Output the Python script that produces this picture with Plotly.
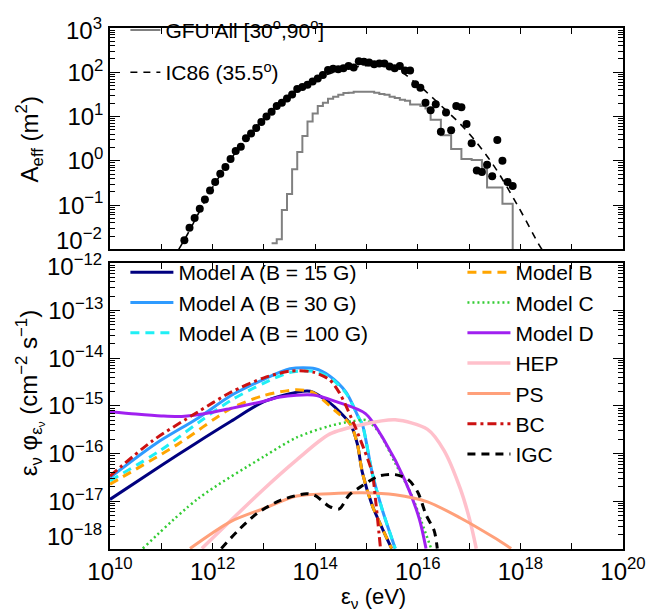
import plotly.graph_objects as go

# ---------------- Top panel: effective area ----------------
# IC86 points (log10 E/eV, A_eff in m^2)
dot_log10E = [11.45, 11.55, 11.65, 11.75, 11.85, 11.95, 12.05, 12.15, 12.25, 12.35,
              12.45, 12.55, 12.65, 12.75, 12.85, 12.95, 13.05, 13.15, 13.25, 13.35,
              13.45, 13.55, 13.65, 13.75, 13.85, 13.95, 14.05, 14.15, 14.25, 14.35,
              14.45, 14.55, 14.65, 14.75, 14.85, 14.95, 15.05, 15.15, 15.25, 15.35,
              15.45, 15.55, 15.65, 15.75, 15.85, 15.95, 16.05, 16.15, 16.25, 16.35,
              16.45, 16.55, 16.65, 16.75, 16.85, 16.95, 17.05, 17.15, 17.25, 17.35,
              17.45, 17.55, 17.65, 17.75, 17.85]
dot_log10A = [-1.79, -1.51, -1.29, -1.08, -0.87, -0.67, -0.48, -0.29, -0.14, 0.04,
              0.22, 0.32, 0.51, 0.62, 0.74, 0.88, 1.00, 1.11, 1.24, 1.31,
              1.41, 1.50, 1.62, 1.67, 1.72, 1.79, 1.86, 1.94, 2.05, 2.08,
              2.07, 2.09, 2.14, 2.11, 2.25, 2.24, 2.22, 2.18, 2.20, 2.20,
              2.13, 2.09, 2.14, 2.04, 2.04, 1.73, 1.65, 1.31, 1.14, 1.28,
              0.66, 1.09, 0.69, 1.24, 1.21, 0.83, 0.40, -0.22, -0.25, -0.09,
              -0.35, 0.47, 0.00, -0.48, -0.57]

# IC86 (35.5 deg) curve
ic86_log10E = [11.34, 11.5, 12.0, 12.5, 13.0, 13.5, 14.0, 14.5, 15.0, 15.5,
               15.94, 16.45, 16.96, 17.47, 17.98, 18.37, 18.42]
ic86_log10A = [-2.0, -1.68, -0.60, 0.27, 0.94, 1.46, 1.83, 2.05, 2.15, 2.12,
               1.78, 1.25, 0.67, -0.09, -1.08, -1.91, -2.0]

# GFU All [30,90] histogram: bin edges and levels
gfu_edges_log10E = [13.15, 13.25, 13.35, 13.45, 13.55, 13.65, 13.75, 13.85, 13.95, 14.05,
                    14.15, 14.25, 14.35, 14.45, 14.55, 14.65, 14.75, 14.85, 14.95, 15.05,
                    15.15, 15.25, 15.35, 15.45, 15.55, 15.65, 15.75, 15.85, 15.95, 16.05,
                    16.15, 16.25, 16.35, 16.45, 16.55, 16.65, 16.75, 16.85, 16.95, 17.05,
                    17.15, 17.25, 17.35, 17.45, 17.55, 17.65, 17.75, 17.85]
gfu_log10A = [-1.86, -1.77, -1.11, -0.75, -0.19, 0.20, 0.56, 0.89, 1.07, 1.24,
              1.31, 1.40, 1.45, 1.49, 1.53, 1.54, 1.56, 1.56, 1.56, 1.56,
              1.54, 1.51, 1.49, 1.45, 1.42, 1.38, 1.36, 1.27, 1.27, 1.24,
              1.18, 0.93, 0.93, 0.58, 0.58, 0.27, 0.27, 0.04, 0.04, 0.02,
              0.02, -0.17, -0.60, -0.60, -0.60, -0.97, -0.97]

# ---------------- Bottom panel: neutrino fluxes (log10 values) ----------------
mA15_x = [10.0, 11.0, 11.66, 12.36, 13.0, 13.64, 13.9, 14.28, 14.5, 14.69, 14.82, 14.92, 15.11, 15.30, 15.49]
mA15_y = [-16.96, -16.25, -15.79, -15.32, -14.91, -14.71, -14.69, -14.93, -15.15, -15.39, -15.79, -16.40, -17.08, -17.55, -17.99]

mA30_x = [10.0, 10.89, 11.72, 12.36, 13.0, 13.51, 14.0, 14.28, 14.6, 14.85, 14.92, 15.11, 15.30, 15.56]
mA30_y = [-16.50, -15.79, -15.25, -14.78, -14.44, -14.22, -14.22, -14.37, -14.71, -15.25, -15.39, -16.40, -17.15, -17.99]

mA100_x = [10.0, 11.0, 11.72, 12.36, 13.0, 13.5, 13.95, 14.28, 14.6, 14.85, 14.92, 15.11, 15.30, 15.56]
mA100_y = [-16.57, -15.92, -15.35, -14.88, -14.52, -14.30, -14.27, -14.40, -14.73, -15.25, -15.39, -16.40, -17.15, -17.99]

mB_x = [10.0, 11.34, 12.36, 13.0, 13.64, 13.96, 14.41, 14.69, 14.82, 14.92, 15.11, 15.30, 15.49]
mB_y = [-16.64, -15.79, -15.05, -14.78, -14.66, -14.72, -15.12, -15.39, -15.79, -16.40, -17.08, -17.55, -17.99]

mC_x = [10.64, 11.72, 13.0, 13.64, 14.28, 14.73, 15.0, 15.24, 15.56, 15.88, 16.07, 16.26]
mC_y = [-17.99, -16.94, -16.06, -15.66, -15.42, -15.32, -15.30, -15.55, -16.20, -16.87, -17.42, -17.99]

mD_x = [10.0, 10.5, 11.0, 11.4, 12.0, 12.36, 13.0, 13.32, 13.96, 14.41, 14.98, 15.36, 15.75, 16.03, 16.16]
mD_y = [-15.12, -15.17, -15.21, -15.22, -15.13, -15.05, -14.90, -14.81, -14.77, -14.91, -15.16, -15.75, -16.56, -17.37, -17.99]

hep_x = [11.79, 13.0, 13.64, 14.28, 14.92, 15.56, 16.19, 16.51, 16.83, 17.02, 17.14]
hep_y = [-17.99, -16.74, -16.13, -15.59, -15.39, -15.29, -15.49, -15.93, -16.74, -17.42, -17.99]

ps_x = [11.56, 12.36, 13.0, 13.64, 14.28, 14.92, 15.56, 16.19, 16.83, 17.47, 17.82]
ps_y = [-17.99, -17.42, -17.15, -16.89, -16.84, -16.82, -16.86, -17.01, -17.35, -17.75, -17.99]

bc_x = [10.0, 10.83, 11.72, 12.36, 13.0, 13.51, 13.96, 14.28, 14.47, 14.6, 14.76, 14.95, 15.11, 15.18, 15.27]
bc_y = [-16.47, -15.73, -15.12, -14.71, -14.41, -14.27, -14.29, -14.45, -14.72, -15.0, -15.39, -15.9, -16.40, -17.0, -17.96]

igc_x = [12.17, 12.49, 12.87, 13.32, 13.83, 14.0, 14.28, 14.47, 14.66, 14.92, 15.24, 15.56, 15.81, 16.0, 16.16, 16.32, 16.38]
igc_y = [-17.99, -17.62, -17.25, -16.98, -16.84, -16.88, -17.11, -17.16, -16.87, -16.67, -16.47, -16.44, -16.54, -16.81, -17.28, -17.62, -17.99]

# ---------------- Axis tick definitions ----------------
x_tickvals = [1e10, 1e11, 1e12, 1e13, 1e14, 1e15, 1e16, 1e17, 1e18, 1e19, 1e20]
x_ticktext = ['10<sup>10</sup>', '', '10<sup>12</sup>', '', '10<sup>14</sup>', '',
              '10<sup>16</sup>', '', '10<sup>18</sup>', '', '10<sup>20</sup>']
y1_exps = [-2, -1, 0, 1, 2, 3]
y2_exps = [-18, -17, -16, -15, -14, -13, -12]
# edge labels drawn slightly inside the panel (as in the original figure)
edge_labels = [(3, 0.998), (-2, 0.595), (-12, 0.545), (-18, 0.026)]


def p10(v):
    return [10 ** a for a in v]


def exp_label(n):
    s = str(abs(n))
    return '10<sup>' + ('\u2212' if n < 0 else '') + s + '</sup>'


def tick_text(exps, skip):
    return ['' if e in skip else exp_label(e) for e in exps]


def minor_vals(lo, hi):
    return [m * 10 ** n for n in range(lo, hi) for m in range(2, 10)]


FONT = 'Liberation Sans, Arial, Helvetica, sans-serif'

fig = go.Figure()

# ---- top panel traces ----
fig.add_trace(go.Scatter(
    x=p10(gfu_edges_log10E) + [10 ** gfu_edges_log10E[-1]],
    y=p10(gfu_log10A) + [10 ** gfu_log10A[-1], 1e-4],
    mode='lines', line=dict(color='#808080', width=2, shape='hv'),
    name='GFU All [30<sup>o</sup>,90<sup>o</sup>]', legend='legend', legendgroup='gfu',
    xaxis='x', yaxis='y'))
fig.add_trace(go.Scatter(
    x=p10(ic86_log10E), y=p10(ic86_log10A), mode='lines',
    line=dict(color='black', width=1.6, dash='7px,6px', shape='spline'),
    name='IC86 (35.5<sup>o</sup>)', legend='legend', legendgroup='ic86',
    xaxis='x', yaxis='y'))
fig.add_trace(go.Scatter(
    x=p10(dot_log10E), y=p10(dot_log10A), mode='markers',
    marker=dict(color='black', size=8), showlegend=False, xaxis='x', yaxis='y'))


# ---- bottom panel traces ----
def curve(xs, ys, name, color, width, dash, leg):
    fig.add_trace(go.Scatter(
        x=p10(xs), y=p10(ys), mode='lines', name=name,
        line=dict(color=color, width=width, dash=dash, shape='spline', smoothing=0.8),
        legend=leg, legendgroup=name, xaxis='x2', yaxis='y2'))


curve(mA15_x, mA15_y, 'Model A (B = 15 G)', '#00007F', 3, 'solid', 'legend2')
curve(mA30_x, mA30_y, 'Model A (B = 30 G)', '#2F9BFF', 3, 'solid', 'legend2')
curve(mA100_x, mA100_y, 'Model A (B = 100 G)', '#1FEFF5', 3, '9px,6px', 'legend2')
curve(mB_x, mB_y, 'Model B', '#FFA500', 3, '9px,6px', 'legend3')
curve(mC_x, mC_y, 'Model C', '#33CC33', 2.5, '2px,3px', 'legend3')
curve(mD_x, mD_y, 'Model D', '#A020F0', 3, 'solid', 'legend3')
curve(hep_x, hep_y, 'HEP', '#FFC0CB', 3.5, 'solid', 'legend3')
curve(ps_x, ps_y, 'PS', '#FFA07A', 3, 'solid', 'legend3')
curve(bc_x, bc_y, 'BC', '#CC1111', 3, '9px,4px,3px,4px', 'legend3')
curve(igc_x, igc_y, 'IGC', 'black', 3, '8px,6px', 'legend3')

axis_common = dict(type='log', showgrid=False, zeroline=False, showline=True,
                   linecolor='black', linewidth=1.5, mirror='allticks',
                   ticks='inside', tickcolor='black', tickwidth=1,
                   tickfont=dict(family=FONT, size=24, color='black'))

leg_common = dict(bgcolor='rgba(0,0,0,0)', font=dict(family=FONT, size=21, color='black'),
                  xanchor='left', yanchor='top', tracegroupgap=0, itemwidth=43)

annotations = [
    dict(text='A<sub>eff</sub> (m<sup>2</sup>)', xref='paper', yref='paper',
         x=-0.157, y=0.787, textangle=-90, showarrow=False,
         font=dict(family=FONT, size=24, color='black'), xanchor='center', yanchor='middle'),
    dict(text='\u03b5<sub>\u03bd</sub> \u03c6<sub>\u03b5<sub>\u03bd</sub></sub> (cm<sup>\u22122</sup> s<sup>\u22121</sup>)',
         xref='paper', yref='paper', x=-0.157, y=0.30, textangle=-90, showarrow=False,
         font=dict(family=FONT, size=24, color='black'), xanchor='center', yanchor='middle'),
    dict(text='\u03b5<sub>\u03bd</sub> (eV)', xref='paper', yref='paper',
         x=0.513, y=-0.095, showarrow=False,
         font=dict(family=FONT, size=22, color='black'), xanchor='center', yanchor='middle'),
]
for e, ypos in edge_labels:
    annotations.append(dict(text=exp_label(e), xref='paper', yref='paper',
                            x=-0.012, y=ypos, xanchor='right', yanchor='middle',
                            showarrow=False,
                            font=dict(family=FONT, size=24, color='black')))

fig.update_layout(
    width=656, height=616,
    margin=dict(l=110, r=24, t=10, b=67),
    paper_bgcolor='white', plot_bgcolor='white',
    font=dict(family=FONT, color='black'),
    xaxis=dict(axis_common, range=[10, 20], domain=[0, 1], anchor='y',
               tickvals=x_tickvals, ticktext=['' for _ in x_tickvals], ticklen=6),
    yaxis=dict(axis_common, range=[-2, 3], domain=[0.575, 1], anchor='x',
               tickvals=[10 ** e for e in y1_exps], ticktext=tick_text(y1_exps, (3, -2)),
               ticklen=10,
               minor=dict(tickmode='array', tickvals=minor_vals(-2, 3), ticks='inside',
                          ticklen=5, tickcolor='black', tickwidth=1, showgrid=False)),
    xaxis2=dict(axis_common, range=[10, 20], domain=[0, 1], anchor='y2',
                tickvals=x_tickvals, ticktext=x_ticktext, ticklen=6),
    yaxis2=dict(axis_common, range=[-18, -12], domain=[0, 0.549], anchor='x2',
                tickvals=[10 ** e for e in y2_exps], ticktext=tick_text(y2_exps, (-12, -18)),
                ticklen=10,
                minor=dict(tickmode='array', tickvals=minor_vals(-18, -12), ticks='inside',
                           ticklen=5, tickcolor='black', tickwidth=1, showgrid=False)),
    legend=dict(leg_common, x=0.03, y=1.035, tracegroupgap=12, itemwidth=30),
    legend2=dict(leg_common, x=0.03, y=0.57),
    legend3=dict(leg_common, x=0.687, y=0.57),
    annotations=annotations,
)

fig.write_html('out.html')
